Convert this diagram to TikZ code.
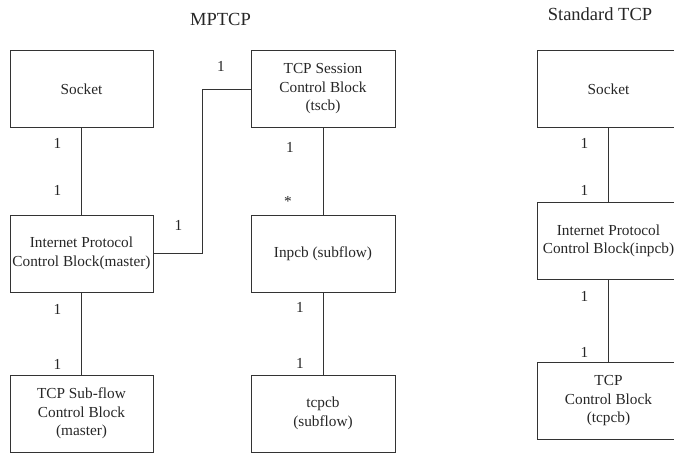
\documentclass[tikz,border=0pt]{standalone}
\usepackage{fontspec}
\setmainfont{Liberation Serif}
\begin{document}
\begin{tikzpicture}[x=1pt,y=-1pt,
  every node/.style={font=\fontsize{15.3}{18.5}\selectfont, text=black!85},
  heading/.style={font=\fontsize{18.5}{22}\selectfont},
  block/.style={draw=black!80, line width=1pt, minimum width=143pt, minimum height=77pt, align=center, inner sep=0pt},
  link/.style={draw=black!80, line width=1pt},
  mult/.style={inner sep=0pt}]
\useasboundingbox (0,0) rectangle (674,453);

% titles
\node[heading] (tmp) at (220.5,19) {MPTCP};
\node[heading] (tstd) at (600,14) {Standard TCP};

% MPTCP, master column
\node[block] (sockL) at (81.5,89) {Socket};
\node[block] (ipL) at (81.5,253.5) {Internet Protocol\\Control Block(master)};
\node[block] (subL) at (81.5,413.5) {TCP Sub-flow\\Control Block\\(master)};

% MPTCP, session and subflow column
\node[block, minimum width=144pt] (tscb) at (323,89) {TCP Session\\Control Block\\(tscb)};
\node[block, minimum width=144pt] (inp) at (323,253.5) {Inpcb (subflow)};
\node[block, minimum width=144pt] (tcpcb) at (323,413.5) {tcpcb\\(subflow)};

% Standard TCP column
\node[block] (sockR) at (608.5,89) {Socket};
\node[block] (ipR) at (608.5,241) {Internet Protocol\\Control Block(inpcb)};
\node[block] (tcpR) at (608.5,401) {TCP\\Control Block\\(tcpcb)};

% connectors
\draw[link] (sockL) -- (ipL);
\draw[link] (ipL) -- (subL);
\draw[link] (tscb) -- (inp);
\draw[link] (inp) -- (tcpcb);
\draw[link] (ipL.east) -- ++(49,0) |- (tscb.west);
\draw[link] (sockR) -- (ipR);
\draw[link] (ipR) -- (tcpR);

% multiplicities
\node[mult] (m1) at (57.5,143) {1};
\node[mult] (m2) at (57.5,190) {1};
\node[mult] (m3) at (57.5,309) {1};
\node[mult] (m4) at (57.5,364) {1};
\node[mult] (m5) at (290,147) {1};
\node[mult] (m6) at (288,201) {*};
\node[mult] (m7) at (300,307) {1};
\node[mult] (m8) at (300,363) {1};
\node[mult] (m9) at (221,66) {1};
\node[mult] (m10) at (178.5,225) {1};
\node[mult] (m11) at (584.5,143) {1};
\node[mult] (m12) at (584.5,190) {1};
\node[mult] (m13) at (584.5,296) {1};
\node[mult] (m14) at (584.5,352) {1};
\end{tikzpicture}
\end{document}
